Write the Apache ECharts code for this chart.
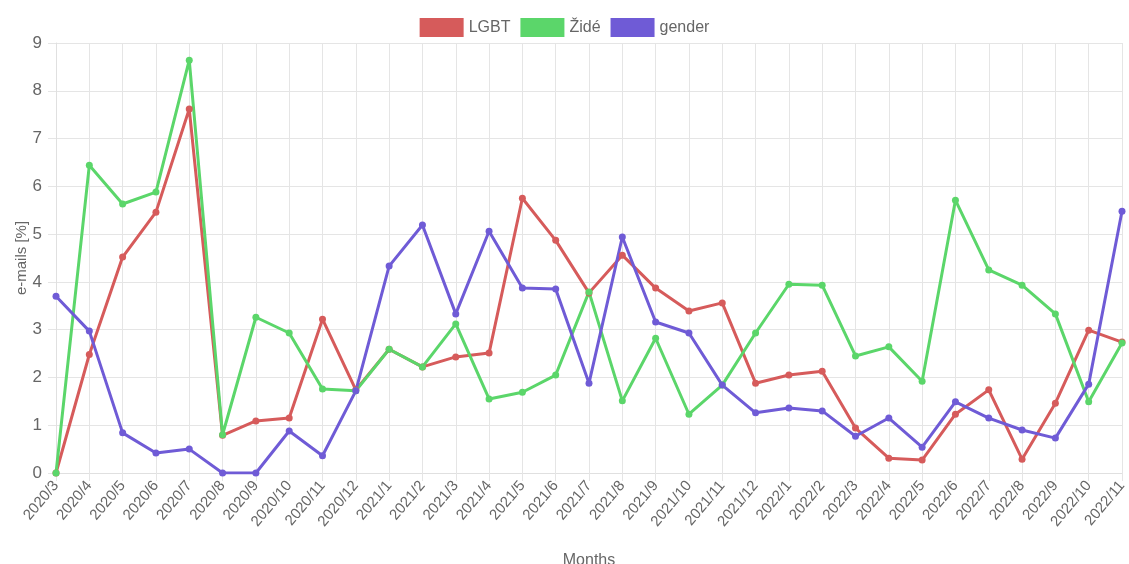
<!DOCTYPE html>
<html>
<head>
<meta charset="utf-8">
<script src="https://cdn.jsdelivr.net/npm/echarts@6/dist/echarts.min.js"></script>
<style>
  html, body { margin: 0; padding: 0; background: #fff; }
  #myChart { width: 1129px; height: 564px; }
</style>
</head>
<body>
<div id="myChart"></div>
<script>
const months = ['2020/3', '2020/4', '2020/5', '2020/6', '2020/7', '2020/8', '2020/9', '2020/10', '2020/11', '2020/12',
  '2021/1', '2021/2', '2021/3', '2021/4', '2021/5', '2021/6', '2021/7', '2021/8', '2021/9', '2021/10', '2021/11', '2021/12',
  '2022/1', '2022/2', '2022/3', '2022/4', '2022/5', '2022/6', '2022/7', '2022/8', '2022/9', '2022/10', '2022/11']

const lgbt = [0, 2.48, 4.52, 5.46, 7.62, 0.79, 1.09, 1.15, 3.22, 1.74,
  2.59, 2.22, 2.43, 2.51, 5.75, 4.87, 3.77, 4.56, 3.87, 3.39, 3.56, 1.88,
  2.05, 2.13, 0.94, 0.31, 0.27, 1.23, 1.74, 0.29, 1.46, 2.99, 2.74]

const zide = [0, 6.44, 5.63, 5.88, 8.64, 0.8, 3.26, 2.93, 1.76, 1.72,
  2.59, 2.22, 3.12, 1.55, 1.69, 2.05, 3.79, 1.51, 2.82, 1.23, 1.84, 2.93,
  3.95, 3.93, 2.45, 2.64, 1.92, 5.71, 4.25, 3.93, 3.33, 1.49, 2.72]

const gender = [3.70, 2.97, 0.84, 0.42, 0.50, 0, 0, 0.88, 0.36, 1.72,
  4.33, 5.19, 3.33, 5.06, 3.87, 3.85, 1.88, 4.94, 3.16, 2.93, 1.84, 1.26,
  1.36, 1.30, 0.77, 1.15, 0.54, 1.49, 1.15, 0.90, 0.73, 1.86, 5.48]

const yTicks = { min: 0, max: 9, interval: 1 }

const font = 'Liberation Sans, Arial, Helvetica, sans-serif'

function line (name, data, color) {
  return {
    name: name,
    type: 'line',
    data: data,
    symbol: 'circle',
    symbolSize: 7,
    lineStyle: { width: 3, color: color },
    itemStyle: { color: color },
    emphasis: { disabled: true },
    animation: false
  }
}

let myChart = echarts.init(document.getElementById('myChart'), null, { renderer: 'canvas' })
myChart.setOption({
  textStyle: { fontFamily: font },
  legend: {
    top: 13,
    left: 'center',
    itemWidth: 44,
    itemHeight: 19,
    itemGap: 10,
    icon: 'rect',
    textStyle: { color: '#666', fontSize: 16, fontFamily: font },
    data: ['LGBT', 'Židé', 'gender']
  },
  grid: {
    left: 56,
    right: 7,
    top: 43,
    bottom: 91,
    outerBoundsMode: 'none'
  },
  xAxis: {
    type: 'category',
    boundaryGap: false,
    data: months,
    name: 'Months',
    nameLocation: 'middle',
    nameGap: 80,
    nameMoveOverlap: false,
    nameTextStyle: { color: '#666', fontSize: 16, fontFamily: font },
    axisLine: { show: true, lineStyle: { color: '#e0e0e0', width: 1 } },
    axisTick: { show: true, alignWithLabel: true, length: 8, lineStyle: { color: '#e5e5e5' } },
    axisLabel: {
      interval: 0,
      rotate: 50,
      color: '#666',
      fontSize: 15,
      margin: 10,
      fontFamily: font
    },
    splitLine: { show: true, lineStyle: { color: '#e5e5e5' } }
  },
  yAxis: {
    type: 'value',
    min: yTicks.min,
    max: yTicks.max,
    interval: yTicks.interval,
    name: 'e-mails [%]',
    nameLocation: 'middle',
    nameGap: 27,
    nameMoveOverlap: false,
    nameTextStyle: { color: '#666', fontSize: 15, fontFamily: font },
    axisLine: { show: true, lineStyle: { color: '#e0e0e0' } },
    axisTick: { show: true, length: 8, lineStyle: { color: '#e5e5e5' } },
    axisLabel: { color: '#666', fontSize: 17, margin: 14, fontFamily: font },
    splitLine: { show: true, lineStyle: { color: '#e5e5e5' } }
  },
  series: [
    line('LGBT', lgbt, '#d65b5b'),
    line('Židé', zide, '#5bd66a'),
    line('gender', gender, '#6f5bd6')
  ]
})
</script>
</body>
</html>
